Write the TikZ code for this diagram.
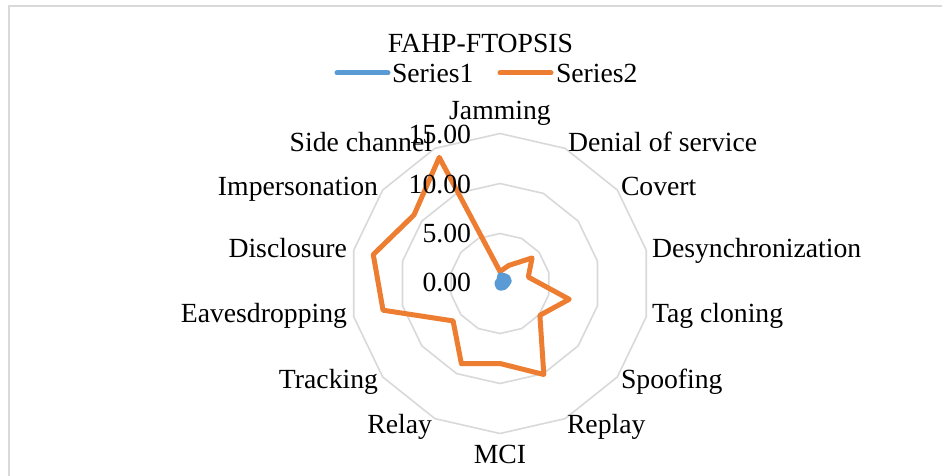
\documentclass[tikz,border=0pt]{standalone}
\usepackage{fontspec}
\setmainfont{Liberation Serif}
\definecolor{gridgray}{HTML}{D9D9D9}
\definecolor{sblue}{HTML}{5B9BD5}
\definecolor{sorange}{HTML}{ED7D31}
\begin{document}
\begin{tikzpicture}[x=1pt,y=-1pt,
  every node/.style={inner sep=0pt, outer sep=0pt, font=\fontsize{27.7}{33}\selectfont},
  gridring/.style={draw=gridgray, line width=1.6pt, line join=round},
  serone/.style={draw=sblue, line width=5pt, line join=round, line cap=round},
  sertwo/.style={draw=sorange, line width=5pt, line join=round, line cap=round},
  catlabel/.style={text=black},
  ticklabel/.style={anchor=base east}]
\useasboundingbox (0,0) rectangle (942,476);
\fill[white] (0,0) rectangle (942,476);
% frame
\coordinate (fa) at (942,6);
\coordinate (fb) at (8.5,6);
\coordinate (fc) at (8.5,476);
\draw[gridgray, line width=2pt] (fa) -- (fb) -- (fc);
% title and legend
\node[anchor=base] (title) at (480.5,53) {FAHP-FTOPSIS};
\coordinate (l1a) at (337,73);
\coordinate (l1b) at (388,73);
\coordinate (l2a) at (500,73);
\coordinate (l2b) at (551,73);
\draw[serone] (l1a) -- (l1b);
\draw[sertwo] (l2a) -- (l2b);
\node[anchor=base west] (leg1) at (392,83) {Series1};
\node[anchor=base west] (leg2) at (556,83) {Series2};
% radar
\begin{scope}[shift={(500,283.5)}, x=10pt, y=10pt]
  \foreach \r in {5,10,15}{
    \draw[gridring] (90:\r) \foreach \i in {1,...,13}{ -- ({90-\i*360/14}:\r)} -- cycle;
  }
  \draw[sertwo] (90:1.2) -- (64.286:2.0) -- (38.571:4.1) -- (12.857:2.9)
    -- (-12.857:7.1) -- (-38.571:5.1) -- (-64.286:10.1) -- (-90:8.0)
    -- (-115.714:8.9) -- (-141.429:6.0) -- (-167.143:12.0) -- (167.143:13.0)
    -- (141.429:11.0) -- (115.714:14.0) -- cycle;
  \draw[serone, fill=sblue] (90:0.85) -- (64.286:0.9) -- (38.571:1.0) -- (12.857:0.95)
    -- (-12.857:0.7) -- (-38.571:0.6) -- (-64.286:0.5) -- (-90:0.45)
    -- (-115.714:0.4) -- (-141.429:0.3) -- (-167.143:0.3) -- (167.143:0.3)
    -- (141.429:0.3) -- (115.714:0.3) -- cycle;
\end{scope}
% tick labels
\node[ticklabel] (t0) at (471,291) {0.00};
\node[ticklabel] (t5) at (471,242) {5.00};
\node[ticklabel] (t10) at (471,193) {10.00};
\node[ticklabel] (t15) at (471,143) {15.00};
% category labels
\node[anchor=base] (jam) at (500,120) {Jamming};
\node[anchor=base west] (dos) at (568,151) {Denial of service};
\node[anchor=base west] (cov) at (621,195) {Covert};
\node[anchor=base west] (des) at (652,257) {Desynchronization};
\node[anchor=base west] (tag) at (652,322) {Tag cloning};
\node[anchor=base west] (spo) at (621,388) {Spoofing};
\node[anchor=base west] (rep) at (567,433) {Replay};
\node[anchor=base] (mci) at (500,463) {MCI};
\node[anchor=base east] (rel) at (432,433) {Relay};
\node[anchor=base east] (tra) at (378,388) {Tracking};
\node[anchor=base east] (eav) at (347,322) {Eavesdropping};
\node[anchor=base east] (dis) at (347,257) {Disclosure};
\node[anchor=base east] (imp) at (378,195) {Impersonation};
\node[anchor=base east] (sid) at (432,151) {Side channel};
\end{tikzpicture}
\end{document}
